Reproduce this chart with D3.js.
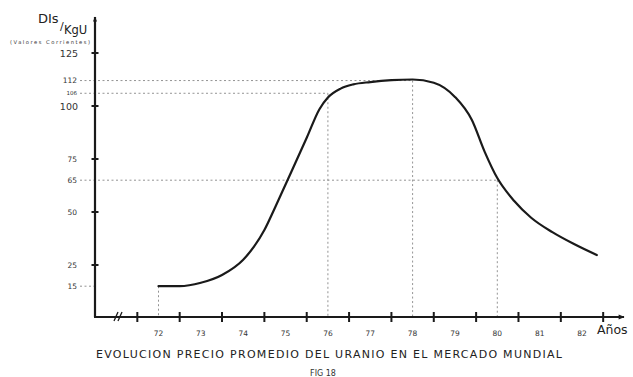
<!DOCTYPE html>
<html><head><meta charset="utf-8">
<script src="https://cdn.jsdelivr.net/npm/d3@7"></script>
<style>
html,body{margin:0;padding:0;background:#fff;}
svg{display:block;font-family:"DejaVu Sans",sans-serif;}
</style></head>
<body><svg id="c" width="633" height="377"></svg>
<script>
// Data
const years  = [72, 72.5, 73, 73.5, 74, 74.25, 74.5, 74.75, 75, 75.5, 75.8, 76, 76.3, 76.6, 77, 77.5, 78, 78.5, 79, 79.4, 79.7, 80, 80.4, 80.8, 81.3, 81.8, 82.35];
const prices = [15, 15, 16.6, 20.3, 27.5, 33.5, 41.5, 52, 63, 85, 98.5, 104, 108.2, 110.2, 111.3, 112.2, 112.5, 111, 104.3, 93.4, 78.5, 66, 55.2, 47.3, 40.5, 35, 29.7];
const yTickValues = [25, 50, 75, 100, 125];
const yBigLabels = [125, 100];
const ySmallLabels = [112, 75, 65, 50, 25, 15];
const yTinyLabels = [106];
const xLabelYears = [72, 73, 74, 75, 76, 77, 78, 79, 80, 81, 82];
const xTickYears = [71.5, 72.5, 73.5, 74.5, 75.5, 76.5, 77.5, 78.5, 79.5, 80.5, 81.5, 82.5];
const refPoints = [{yr: 72, v: 15, h: false}, {yr: 76, v: 106, h: true}, {yr: 78, v: 112, h: true}, {yr: 80, v: 65, h: true}];
const refLeftOnly = [15];
const title = "EVOLUCION  PRECIO  PROMEDIO  DEL  URANIO  EN  EL  MERCADO  MUNDIAL";
const fig = "FIG 18";

const svg = d3.select("#c");
const x = d3.scaleLinear().domain([72, 82]).range([158.5, 582]);
const y = d3.scaleLinear().domain([0, 125]).range([318, 53]);
const ax0 = 95, ay0 = 317;
const ink = "#1a1a1a";

// arrow markers
const defs = svg.append("defs");
defs.append("marker").attr("id","arr").attr("viewBox","0 0 10 10").attr("refX",9).attr("refY",5)
  .attr("markerWidth",7).attr("markerHeight",5).attr("orient","auto-start-reverse").attr("markerUnits","userSpaceOnUse")
  .append("path").attr("d","M0,1 L10,5 L0,9 Z").attr("fill",ink);
defs.append("marker").attr("id","arr2").attr("viewBox","0 0 10 10").attr("refX",9).attr("refY",5)
  .attr("markerWidth",14).attr("markerHeight",6).attr("orient","auto").attr("markerUnits","userSpaceOnUse")
  .append("path").attr("d","M0,1 L10,5 L0,9 Z").attr("fill",ink);

// reference dotted lines
const dash = "2,2.5";
refPoints.forEach(p => {
  svg.append("line").attr("x1", x(p.yr)).attr("x2", x(p.yr)).attr("y1", y(p.v)).attr("y2", ay0)
    .attr("stroke","#777").attr("stroke-width",0.8).attr("stroke-dasharray",dash);
  if (p.h) {
    svg.append("line").attr("x1", 80).attr("x2", x(p.yr)).attr("y1", y(p.v)).attr("y2", y(p.v))
      .attr("stroke","#777").attr("stroke-width",0.8).attr("stroke-dasharray",dash);
  }
});
refLeftOnly.forEach(v => {
  svg.append("line").attr("x1", 80).attr("x2", ax0).attr("y1", y(v)).attr("y2", y(v))
    .attr("stroke","#777").attr("stroke-width",0.8).attr("stroke-dasharray",dash);
});

// axes lines
svg.append("line").attr("x1", ax0).attr("y1", ay0).attr("x2", ax0).attr("y2", 17)
  .attr("stroke", ink).attr("stroke-width", 2.2).attr("marker-end","url(#arr)");
svg.append("line").attr("x1", ax0-1).attr("y1", ay0).attr("x2", 624).attr("y2", ay0)
  .attr("stroke", ink).attr("stroke-width", 2).attr("marker-end","url(#arr2)");

// y ticks (crossing)
svg.selectAll(".yt").data(yTickValues).enter().append("line")
  .attr("x1", ax0-3.5).attr("x2", ax0+3.5).attr("y1", d=>y(d)).attr("y2", d=>y(d))
  .attr("stroke", ink).attr("stroke-width", 2);

// y labels
svg.selectAll(".yb").data(yBigLabels).enter().append("text")
  .attr("x", 78).attr("y", d=>y(d)+3.5).attr("text-anchor","end")
  .attr("font-size", 9.5).attr("fill", "#333").text(d=>d);
svg.selectAll(".ys").data(ySmallLabels).enter().append("text")
  .attr("x", 77).attr("y", d=>y(d)+2.8).attr("text-anchor","end")
  .attr("font-size", 7.5).attr("fill", "#333").text(d=>d);
svg.selectAll(".yy").data(yTinyLabels).enter().append("text")
  .attr("x", 77).attr("y", d=>y(d)+1.5).attr("text-anchor","end")
  .attr("font-size", 5.5).attr("fill", "#333").text(d=>d);

// x ticks (crossing)
svg.selectAll(".xt").data(xTickYears).enter().append("line")
  .attr("x1", d=>x(d)).attr("x2", d=>x(d)).attr("y1", ay0-5).attr("y2", ay0+5)
  .attr("stroke", ink).attr("stroke-width", 2);
// break marks
[0, 4].forEach(o => {
  svg.append("line").attr("x1", 114+o).attr("y1", ay0+4).attr("x2", 118+o).attr("y2", ay0-5)
    .attr("stroke", ink).attr("stroke-width", 1.3);
});

// x labels
svg.selectAll(".xl").data(xLabelYears).enter().append("text")
  .attr("x", d=>x(d)).attr("y", 336).attr("text-anchor","middle")
  .attr("font-size", 7.5).attr("fill", "#333").text(d=>d);
svg.append("text").attr("x", 597).attr("y", 334).attr("font-size", 12.5).attr("fill", "#222").text("Años");

// axis title
svg.append("text").attr("x", 38).attr("y", 23).attr("font-size", 13).attr("fill", "#222").text("DIs");
svg.append("text").attr("x", 60).attr("y", 30).attr("font-size", 11).attr("fill", "#222").text("/");
svg.append("text").attr("x", 64).attr("y", 34).attr("font-size", 11.5).attr("fill", "#222").text("KgU");
svg.append("text").attr("x", 10).attr("y", 44).attr("font-size", 5.2).attr("fill", "#333")
  .attr("textLength", 80).text("(Valores Corrientes)");

// curve
const line = d3.line().x((d,i)=>x(years[i])).y(d=>y(d)).curve(d3.curveMonotoneX);
svg.append("path").attr("d", line(prices)).attr("fill","none").attr("stroke", ink)
  .attr("stroke-width", 2.2).attr("stroke-linecap","round");

// title
svg.append("text").attr("x", 96).attr("y", 358).attr("font-size", 11).attr("fill", "#222")
  .attr("textLength", 466).attr("lengthAdjust","spacing").text(title);
svg.append("text").attr("x", 323).attr("y", 376).attr("text-anchor","middle").attr("font-size", 8).attr("fill", "#333").text(fig);
</script></body></html>
